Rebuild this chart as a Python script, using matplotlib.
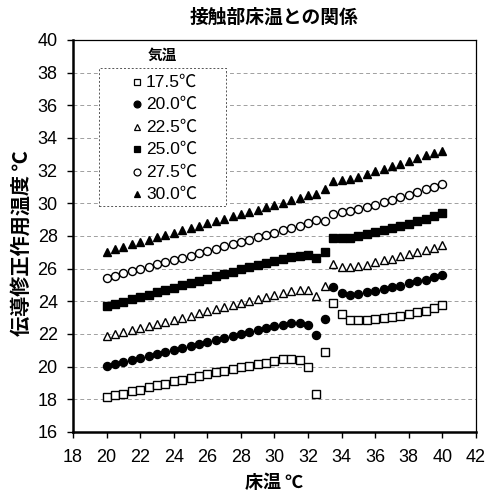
import matplotlib
matplotlib.use("Agg")
import matplotlib.pyplot as plt
from matplotlib.patches import Rectangle

plt.rcParams['font.family'] = ['Liberation Sans', 'Noto Sans CJK JP', 'DejaVu Sans']

# floor temperature at the contact area (°C)
floor_temp = [20.0, 20.5, 21.0, 21.5, 22.0, 22.5, 23.0, 23.5, 24.0, 24.5,
              25.0, 25.5, 26.0, 26.5, 27.0, 27.5, 28.0, 28.5, 29.0, 29.5,
              30.0, 30.5, 31.0, 31.5, 32.0, 32.5, 33.0, 33.5, 34.0, 34.5,
              35.0, 35.5, 36.0, 36.5, 37.0, 37.5, 38.0, 38.5, 39.0, 39.5, 40.0]

# conduction-corrected operative temperature for each air temperature
t_air_175 = [18.15, 18.25, 18.35, 18.5, 18.6, 18.75, 18.85, 18.95, 19.1, 19.2,
             19.3, 19.45, 19.55, 19.65, 19.75, 19.85, 19.95, 20.05, 20.15, 20.25,
             20.35, 20.45, 20.47, 20.42, 20.0, 18.3, 20.9, 23.9, 23.2, 22.88,
             22.86, 22.88, 22.92, 22.98, 23.05, 23.13, 23.22, 23.32, 23.43, 23.58, 23.8]
t_air_200 = [20.02, 20.15, 20.28, 20.4, 20.52, 20.65, 20.77, 20.9, 21.02, 21.15,
             21.27, 21.4, 21.52, 21.65, 21.77, 21.9, 22.0, 22.12, 22.25, 22.37,
             22.48, 22.58, 22.65, 22.68, 22.58, 21.95, 22.9, 24.9, 24.5, 24.4,
             24.45, 24.55, 24.65, 24.76, 24.86, 24.96, 25.1, 25.22, 25.32, 25.47, 25.62]
t_air_225 = [21.85, 21.98, 22.1, 22.23, 22.36, 22.49, 22.62, 22.75, 22.88, 23.0,
             23.13, 23.26, 23.39, 23.52, 23.65, 23.78, 23.9, 24.03, 24.15, 24.28,
             24.4, 24.52, 24.62, 24.7, 24.72, 24.35, 24.96, 26.3, 26.1, 26.08,
             26.15, 26.25, 26.38, 26.5, 26.62, 26.75, 26.88, 27.0, 27.12, 27.28, 27.47]
t_air_250 = [23.7, 23.84, 23.98, 24.12, 24.27, 24.41, 24.55, 24.69, 24.83, 24.97,
             25.11, 25.25, 25.39, 25.53, 25.67, 25.81, 25.95, 26.08, 26.21, 26.34,
             26.46, 26.58, 26.7, 26.78, 26.82, 26.65, 27.0, 27.9, 27.85, 27.9,
             28.0, 28.1, 28.22, 28.35, 28.47, 28.6, 28.75, 28.9, 29.05, 29.22, 29.4]
t_air_275 = [25.45, 25.58, 25.72, 25.85, 25.99, 26.12, 26.26, 26.39, 26.53, 26.66,
             26.8, 26.94, 27.08, 27.22, 27.36, 27.5, 27.64, 27.78, 27.92, 28.06,
             28.2, 28.34, 28.48, 28.62, 28.8, 28.95, 28.9, 29.35, 29.45, 29.55,
             29.65, 29.78, 29.92, 30.06, 30.2, 30.36, 30.52, 30.67, 30.85, 31.0, 31.2]
t_air_300 = [27.05, 27.2, 27.35, 27.5, 27.64, 27.78, 27.92, 28.07, 28.21, 28.35,
             28.5, 28.64, 28.78, 28.92, 29.06, 29.2, 29.34, 29.48, 29.62, 29.76,
             29.9, 30.05, 30.2, 30.35, 30.5, 30.55, 30.85, 31.35, 31.4, 31.5,
             31.64, 31.8, 31.96, 32.12, 32.27, 32.43, 32.6, 32.78, 32.95, 33.08, 33.22]

series_labels = ['17.5℃', '20.0℃', '22.5℃', '25.0℃', '27.5℃', '30.0℃']
series_values = [t_air_175, t_air_200, t_air_225, t_air_250, t_air_275, t_air_300]
series_markers = ['s', 'o', '^', 's', 'o', '^']
series_filled = [False, True, False, True, False, True]

x_ticks = [18, 20, 22, 24, 26, 28, 30, 32, 34, 36, 38, 40, 42]
y_ticks = [16, 18, 20, 22, 24, 26, 28, 30, 32, 34, 36, 38, 40]

CJK = ['Noto Sans CJK JP', 'DejaVu Sans']

fig = plt.figure(figsize=(4.96, 4.95), dpi=100)
ax = fig.add_axes([73 / 496, 1 - 432 / 495, 403 / 496, 392 / 495])

ax.set_xlim(18, 42)
ax.set_ylim(16, 40)
ax.set_xticks(x_ticks)
ax.set_yticks(y_ticks)
ax.tick_params(axis='both', labelsize=13, direction='out', length=4, width=1)
ax.tick_params(axis='x', pad=8)
ax.tick_params(axis='y', pad=7)

ax.yaxis.grid(True, color='#a0a0a0', linestyle=(0, (4, 3)), linewidth=0.7)
ax.set_axisbelow(True)

for side in ('left', 'bottom'):
    ax.spines[side].set_linewidth(1.8)
for side in ('right', 'top'):
    ax.spines[side].set_linewidth(0.9)

msize = {'s': 5.4, 'o': 5.8, '^': 5.8}
for vals, mk, filled in zip(series_values, series_markers, series_filled):
    ax.plot(floor_temp, vals, linestyle='none', marker=mk, markersize=msize[mk],
            markerfacecolor='black' if filled else 'white',
            markeredgecolor='black', markeredgewidth=1.0, zorder=3)

# legend box with dashed frame, title above it
box_x0, box_x1 = (99 - 73) / 403, (226 - 73) / 403
box_y1, box_y0 = 1 - (68 - 40) / 392, 1 - (206 - 40) / 392
ax.add_patch(Rectangle((box_x0, box_y0), box_x1 - box_x0, box_y1 - box_y0,
                       transform=ax.transAxes, facecolor='white',
                       edgecolor='#555555', linewidth=0.7,
                       linestyle=(0, (2, 2)), zorder=4))
ax.text((162 - 73) / 403, 1 - (55 - 40) / 392, '気温', transform=ax.transAxes,
        ha='center', va='center', fontsize=10.5, fontweight='bold', zorder=5,
        family=CJK)
entry_y = [82, 104, 127, 149, 172, 194]
for lab, mk, filled, ey in zip(series_labels, series_markers, series_filled, entry_y):
    yy = 1 - (ey - 40) / 392
    ax.plot([(137 - 73) / 403], [yy], transform=ax.transAxes, linestyle='none',
            marker=mk, markersize=msize[mk] * 0.85,
            markerfacecolor='black' if filled else 'white',
            markeredgecolor='black', markeredgewidth=0.9, zorder=5, clip_on=False)
    ax.text((146 - 73) / 403, yy, lab, transform=ax.transAxes, ha='left',
            va='center', fontsize=12.5, zorder=5)

fig.text(274 / 496, 1 - 17 / 495, '接触部床温との関係', ha='center', va='center',
         fontsize=13.5, fontweight='bold', family=CJK)
fig.text(274 / 496, 1 - 482 / 495, '床温 ℃', ha='center', va='center',
         fontsize=13, fontweight='bold', family=CJK)
fig.text(21 / 496, 1 - 243 / 495, '伝導修正作用温度 ℃', ha='center', va='center',
         rotation=90, fontsize=14.5, fontweight='bold', family=CJK)

fig.savefig('out.png', dpi=100)
